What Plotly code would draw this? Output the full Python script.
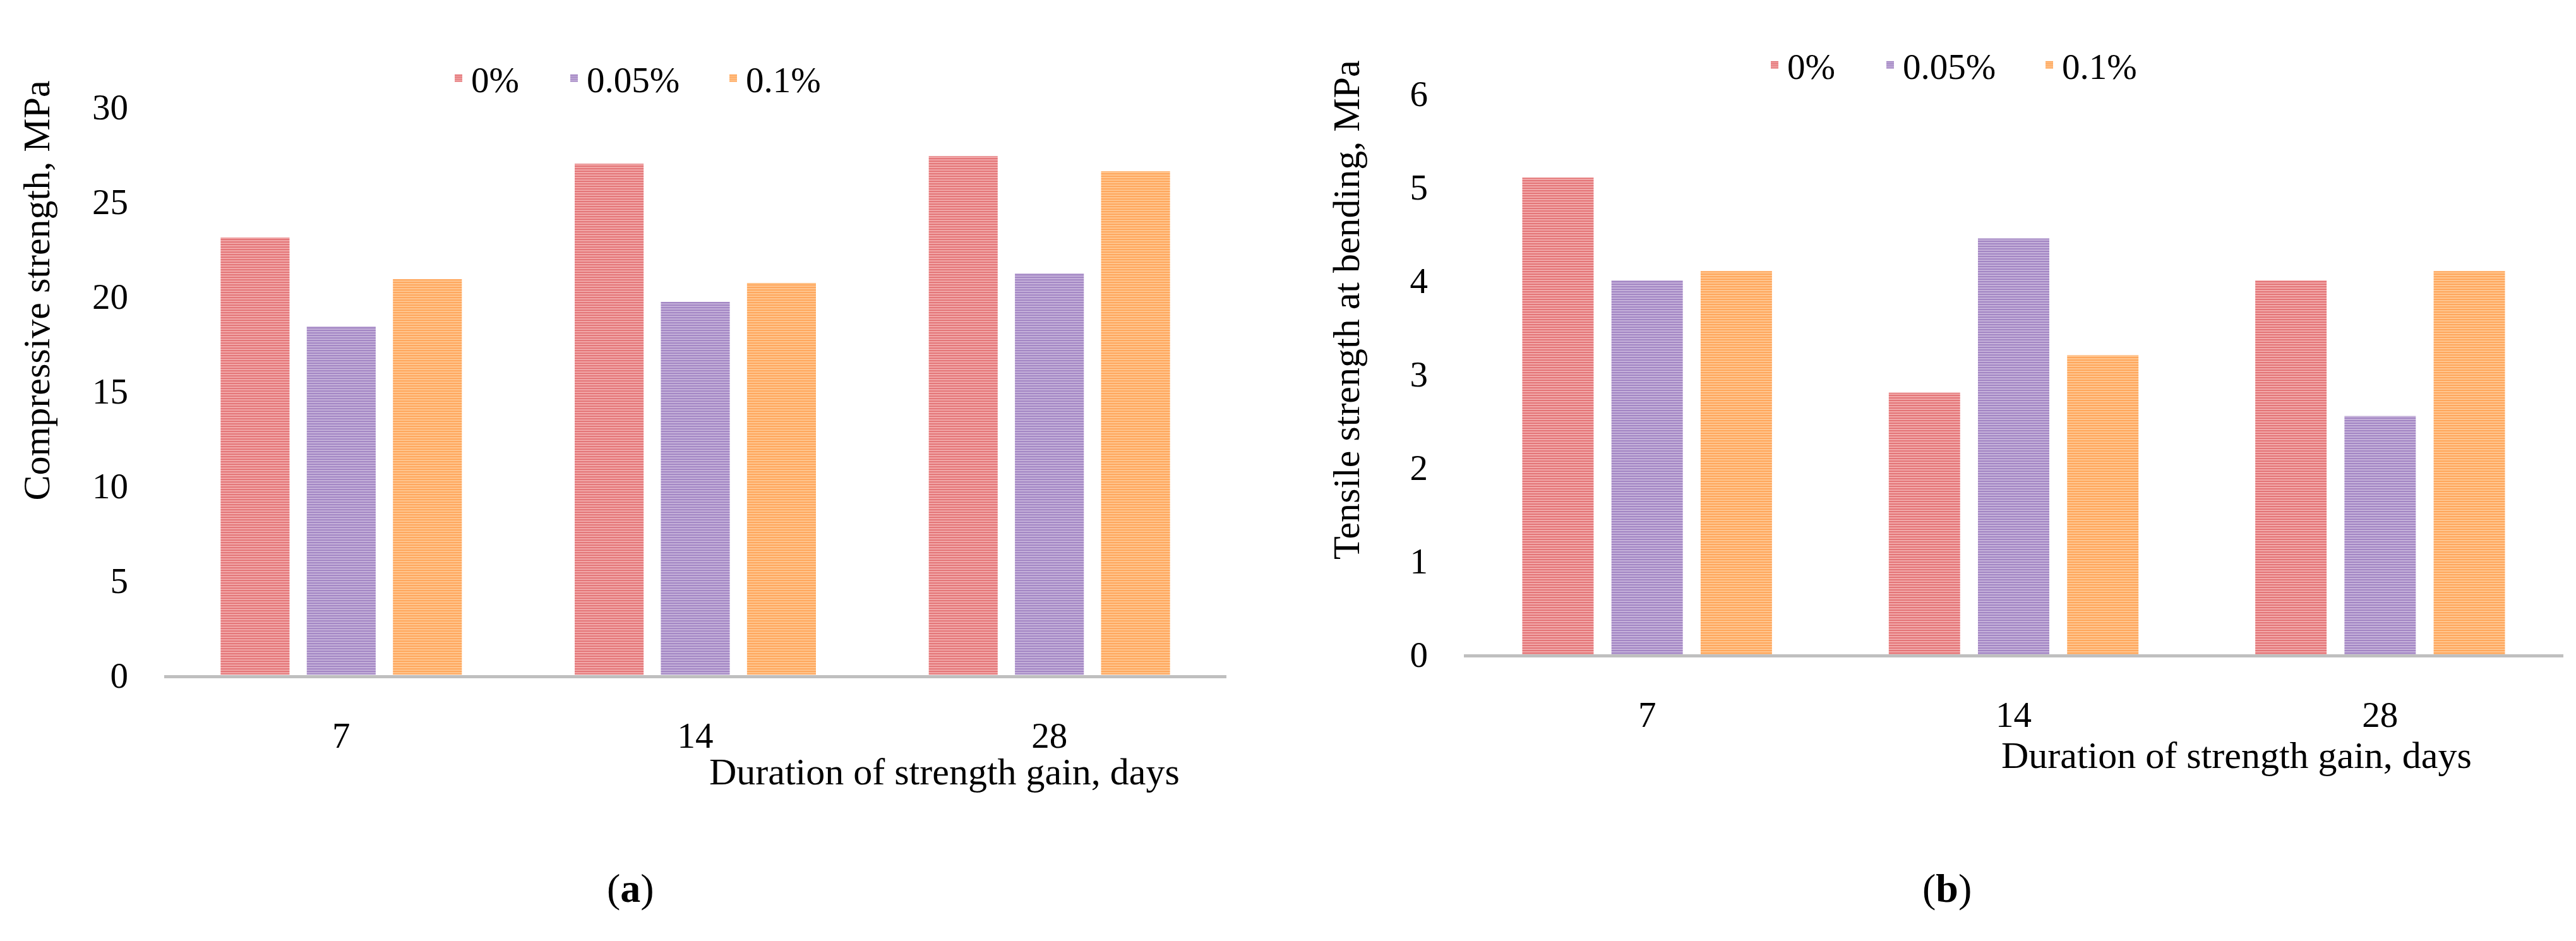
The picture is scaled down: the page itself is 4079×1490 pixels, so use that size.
import plotly.graph_objects as go

W, H = 4079, 1490

days = ["7", "14", "28"]
series_names = ["0%", "0.05%", "0.1%"]

compressive_0 = [23.1, 27.0, 27.4]
compressive_005 = [18.4, 19.7, 21.2]
compressive_01 = [20.9, 20.7, 26.6]

tensile_0 = [5.1, 2.8, 4.0]
tensile_005 = [4.0, 4.45, 2.55]
tensile_01 = [4.1, 3.2, 4.1]

y1_ticks = [0, 5, 10, 15, 20, 25, 30]
y2_ticks = [0, 1, 2, 3, 4, 5, 6]

colors_fg = ["#E0686B", "#9B7BBE", "#FF9F4F"]
colors_bg = ["#F3AEAE", "#C8B5DC", "#FFC995"]

FONT = "Palatino Linotype, Palatino, Book Antiqua, Liberation Serif, serif"

fig = go.Figure()

left_vals = [compressive_0, compressive_005, compressive_01]
right_vals = [tensile_0, tensile_005, tensile_01]

left_legends = ["legend", "legend2", "legend3"]
right_legends = ["legend4", "legend5", "legend6"]

for i, name in enumerate(series_names):
    fig.add_trace(go.Bar(
        x=days, y=left_vals[i], name=name, showlegend=True,
        xaxis="x", yaxis="y", legend=left_legends[i],
        marker=dict(color=colors_bg[i], line=dict(width=0),
                    pattern=dict(shape="-", fgcolor=colors_fg[i], bgcolor=colors_bg[i],
                                 size=4, solidity=0.45, fillmode="replace")),
    ))
for i, name in enumerate(series_names):
    fig.add_trace(go.Bar(
        x=days, y=right_vals[i], name=name, showlegend=True,
        xaxis="x2", yaxis="y2", legend=right_legends[i],
        marker=dict(color=colors_bg[i], line=dict(width=0),
                    pattern=dict(shape="-", fgcolor=colors_fg[i], bgcolor=colors_bg[i],
                                 size=4, solidity=0.45, fillmode="replace")),
    ))

tickfont = dict(family=FONT, size=57, color="#000000")
titlefont = dict(family=FONT, size=60, color="#000000")

def px_x(p):
    return p / W

def px_y(p):
    return 1 - p / H

common_x = dict(type="category", showgrid=False, zeroline=False, showline=True,
                linecolor="#BFBFBF", linewidth=5, ticks="", tickfont=tickfont,
                ticklabelstandoff=42)
common_y = dict(showgrid=False, zeroline=False, showline=False, ticks="",
                tickfont=tickfont, ticklabelstandoff=56)

legend_common = dict(orientation="h", xanchor="left", yanchor="middle",
                     font=dict(family=FONT, size=57, color="#000000"),
                     bgcolor="rgba(0,0,0,0)", itemwidth=30)

legend_x_left = [698, 881, 1133]
legend_x_right = [2782, 2965, 3217]

layout_legends = {}
for name, xp in zip(left_legends, legend_x_left):
    layout_legends[name] = dict(x=px_x(xp), y=px_y(89), **legend_common)
for name, xp in zip(right_legends, legend_x_right):
    layout_legends[name] = dict(x=px_x(xp), y=px_y(67), **legend_common)

fig.update_layout(
    width=W, height=H,
    showlegend=True,
    margin=dict(l=0, r=0, t=0, b=0),
    paper_bgcolor="white", plot_bgcolor="white",
    barmode="group", bargap=0.27, bargroupgap=0.2,
    font=dict(family=FONT, size=56, color="#000000"),
    xaxis=dict(domain=[px_x(252), px_x(1934)], anchor="y", **common_x),
    yaxis=dict(domain=[px_y(1075), px_y(136)], anchor="x", range=[0, 30],
               tickvals=y1_ticks, **common_y),
    xaxis2=dict(domain=[px_x(2310), px_x(4051)], anchor="y2", **common_x),
    yaxis2=dict(domain=[px_y(1041), px_y(114)], anchor="x2", range=[0, 6],
                tickvals=y2_ticks, **common_y),
    annotations=[
        dict(text="Compressive strength, MPa", xref="paper", yref="paper",
             x=px_x(50), y=px_y(440), xanchor="center", yanchor="middle",
             textangle=-90, showarrow=False, font=titlefont),
        dict(text="Tensile strength at bending, MPa", xref="paper", yref="paper",
             x=px_x(2124), y=px_y(472), xanchor="center", yanchor="middle",
             textangle=-90, showarrow=False, font=titlefont),
        dict(text="Duration of strength gain, days", xref="paper", yref="paper",
             x=px_x(1487), y=px_y(1235), xanchor="center", yanchor="middle",
             showarrow=False, font=titlefont),
        dict(text="Duration of strength gain, days", xref="paper", yref="paper",
             x=px_x(3533), y=px_y(1208), xanchor="center", yanchor="middle",
             showarrow=False, font=titlefont),
        dict(text="(<b>a</b>)", xref="paper", yref="paper",
             x=px_x(990), y=px_y(1428), xanchor="center", yanchor="middle",
             showarrow=False, font=dict(family=FONT, size=64, color="#000000")),
        dict(text="(<b>b</b>)", xref="paper", yref="paper",
             x=px_x(3075), y=px_y(1428), xanchor="center", yanchor="middle",
             showarrow=False, font=dict(family=FONT, size=64, color="#000000")),
    ],
    **layout_legends,
)

fig.write_html("out.html")
